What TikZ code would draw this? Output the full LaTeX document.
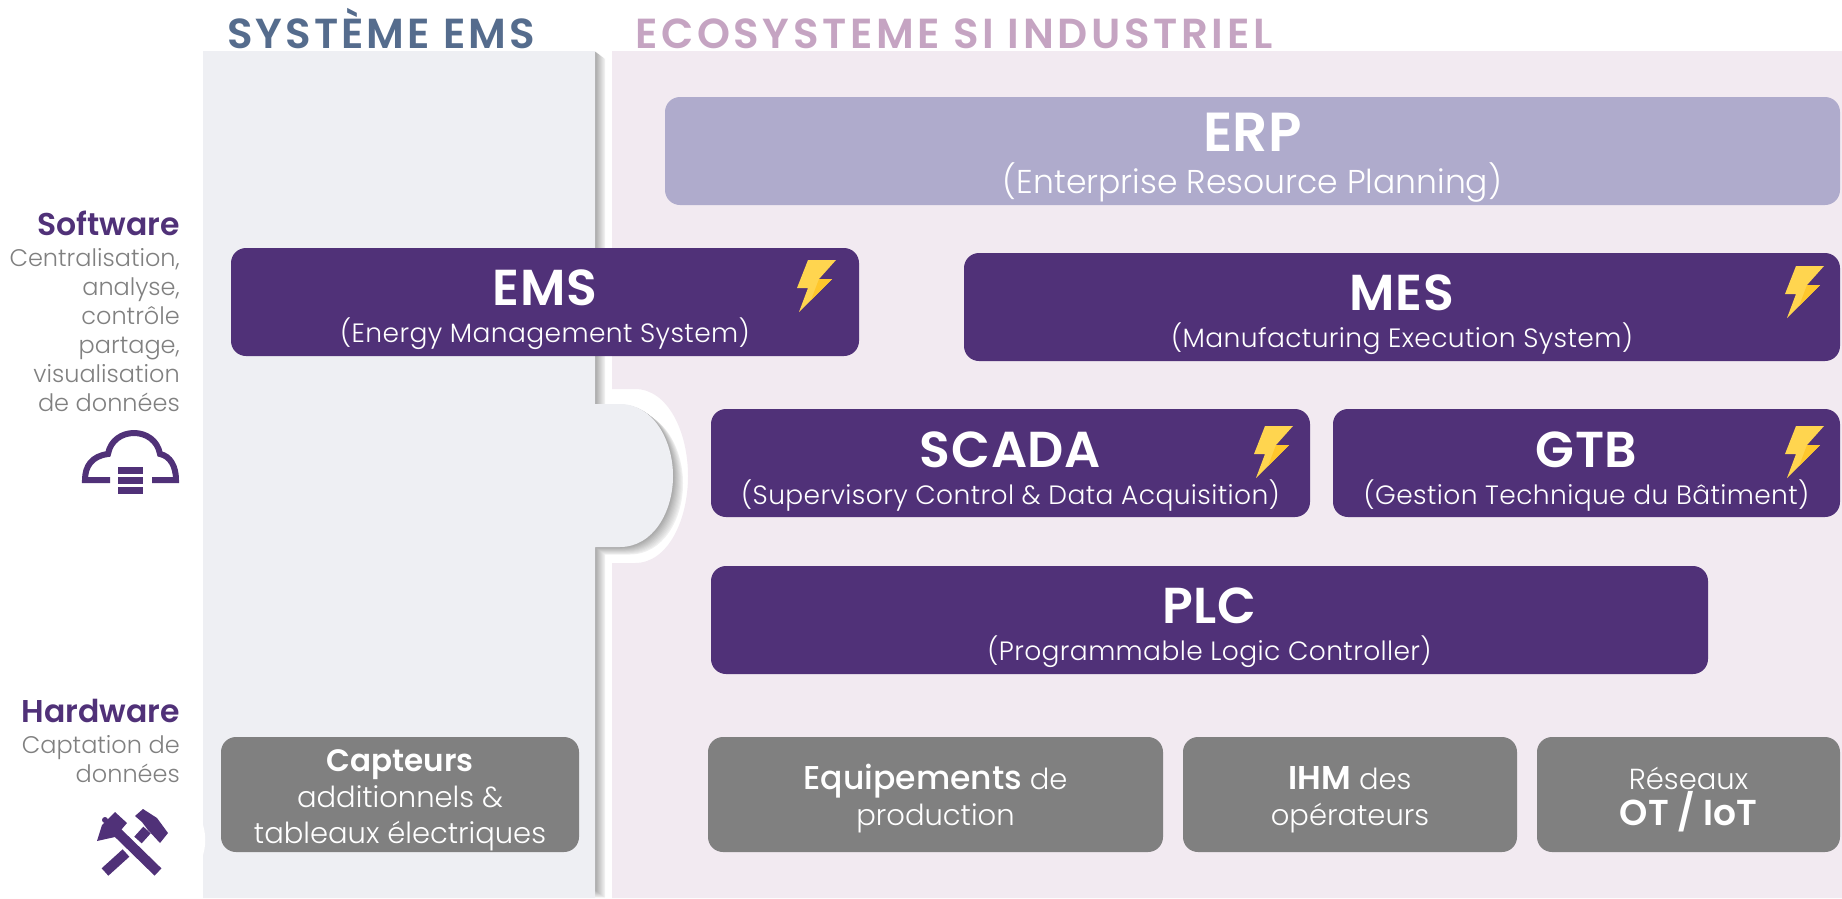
\documentclass[tikz,border=0pt]{standalone}
\usepackage{fontspec}
\setmainfont{Poppins Light}[BoldFont={Poppins SemiBold}]
\newfontface\mediumface{Poppins Medium}
\usepackage{tikz}

\definecolor{emspurple}{HTML}{503178}
\definecolor{erplilac}{HTML}{AFABCC}
\definecolor{boxgrey}{HTML}{808080}
\definecolor{leftpanel}{HTML}{EEEFF3}
\definecolor{rightpanel}{HTML}{F2EAF1}
\definecolor{headblue}{HTML}{556C8D}
\definecolor{headpink}{HTML}{C5A4C2}
\definecolor{boltlight}{HTML}{FFD54F}
\definecolor{boltdark}{HTML}{FFC72C}

\newcommand{\bigname}[2][50.5]{{\fontsize{#1}{37}\selectfont\bfseries\rule{0pt}{52pt}#2}}
\newcommand{\sidename}[1]{\textcolor{emspurple}{\fontsize{31.5}{29}\selectfont\bfseries #1}}
\newcommand{\hardtop}{\rule{0pt}{33pt}}

\tikzset{
    layerbox/.style={rounded corners=15, inner sep=0, text=white, align=center,
        minimum height=108, font=\fontsize{26.5}{37}\selectfont\addfontfeature{LetterSpace=1.5}},
    darkbox/.style={layerbox, fill=emspurple},
    erpbox/.style={layerbox, fill=erplilac, font=\fontsize{33}{41.5}\selectfont},
    hardbox/.style={rounded corners=15, inner sep=0, text=white, align=center, fill=boxgrey,
        font=\fontsize{29}{36}\selectfont, minimum height=115},
    sidetext/.style={anchor=north east, inner sep=0, align=right, text=boxgrey,
        font=\fontsize{24}{29}\selectfont},
    headtext/.style={anchor=base west, inner sep=0,
        font=\fontsize{42}{42}\selectfont\bfseries\addfontfeature{LetterSpace=7.3}},
    bolt/.pic={
        \fill[boltlight] (11,0) -- (39,0) -- (22,19) -- (35,19) -- (2,52) -- (11,28) -- (0,28) -- cycle;
        \fill[boltdark] (22,19) -- (35,19) -- (14,40) -- (19,27) -- cycle;
    }
}

\begin{document}
\begin{tikzpicture}[x=1pt, y=-1pt]
    \useasboundingbox (0,0) rectangle (1842,898);

    % Right panel, with its notch
    \fill[rightpanel] (612,51) -- (1842,51) -- (1842,898) -- (612,898) -- (612,563) -- (635,563)
        .. controls (668,563) and (688,520) .. (688,476)
        .. controls (688,432) and (668,389) .. (635,389) -- (612,389) -- cycle;

    % Shadow of the left panel
    \foreach \i in {10,...,1}
        \fill[black!\the\numexpr 36-3*\i\relax!white, shift={(\i,0.75*\i)}] (203,51) -- (595,51) -- (595,404) -- (620,404)
            .. controls (653,404) and (673,440) .. (673,476)
            .. controls (673,512) and (653,547) .. (620,547) -- (595,547) -- (595,890) -- (203,890) -- cycle;

    % Left panel
    \fill[leftpanel] (203,51) -- (595,51) -- (595,404) -- (620,404)
        .. controls (653,404) and (673,440) .. (673,476)
        .. controls (673,512) and (653,547) .. (620,547) -- (595,547) -- (595,898) -- (203,898) -- cycle;
    \fill[white] (203,825) .. controls (206,835) and (206,845) .. (203,855) -- cycle;

    % Column titles
    \node[headtext, text=headblue] (systemtitle) at (227,48) {SYSTÈME EMS};
    \node[headtext, text=headpink] (ecotitle) at (635,48) {\addfontfeature{LetterSpace=8.6}ECOSYSTEME SI INDUSTRIEL};

    % Software layers
    \node[erpbox, minimum width=1175] (erp) at (1252.5,151)
        {\bigname[55]{ERP}\\(Enterprise Resource Planning)};
    \node[darkbox, minimum width=628] (ems) at (545,302)
        {\bigname{EMS}\\(Energy Management System)};
    \node[darkbox, minimum width=876] (mes) at (1402,307)
        {\bigname{MES}\\(Manufacturing Execution System)};
    \node[darkbox, minimum width=599] (scada) at (1010.5,463)
        {\bigname{SCADA}\\(Supervisory Control \& Data Acquisition)};
    \node[darkbox, minimum width=507] (gtb) at (1586.5,463)
        {\bigname{GTB}\\(Gestion Technique du Bâtiment)};
    \node[darkbox, minimum width=997] (plc) at (1209.5,620)
        {\bigname{PLC}\\(Programmable Logic Controller)};

    % Energy bolts
    \pic at (797,260) {bolt};
    \pic at (1785,266) {bolt};
    \pic at (1254,426) {bolt};
    \pic at (1785,426) {bolt};

    % Hardware layers
    \node[hardbox, minimum width=358] (capteurs) at (400,794.5)
        {\hardtop\textbf{\fontsize{31}{36}\selectfont Capteurs}\\additionnels \&\\tableaux électriques};
    \node[hardbox, minimum width=455] (equip) at (935.5,794.5)
        {\hardtop{\fontsize{33}{36}\selectfont\mediumface Equipements} de\\production};
    \node[hardbox, minimum width=334] (ihm) at (1350,794.5)
        {\hardtop\textbf{\fontsize{33}{36}\selectfont IHM} des\\opérateurs};
    \node[hardbox, minimum width=303] (reseaux) at (1688.5,794.5)
        {\hardtop Réseaux\\\textbf{\fontsize{36}{36}\selectfont OT / IoT}};

    % Side labels
    \node[sidetext] (softlabel) at (180,211)
        {\sidename{Software}\\[2pt]Centralisation,\\analyse,\\contrôle\\partage,\\visualisation\\de données};
    \node[sidetext] (hardlabel) at (180,699)
        {\sidename{Hardware}\\[2pt]Captation de\\données};

    % Cloud icon
    \draw[emspurple, line width=6] (110,480) -- (85,480)
        .. controls (85,466) and (92,456) .. (108,454)
        .. controls (113,426) and (155,426) .. (160,454)
        .. controls (170,456) and (176,466) .. (176,480) -- (152,480);
    \foreach \y in {467,477,487}
        \fill[emspurple] (118,\y) rectangle (143,\y+7);

    % Hammers icon
    \draw[emspurple, line width=10] (117,832) -- (158,872);
    \draw[emspurple, line width=10] (147,830) -- (138,840);
    \draw[emspurple, line width=10] (126,853) -- (105,872);
    \fill[emspurple] (97,841) -- (102,825) -- (115,812) -- (127,823) -- (115,837) -- cycle;
    \fill[emspurple] (105,820) circle (3);
    \fill[emspurple] (135,816) -- (143,809) -- (157,818) -- (168,833) -- (160,843) -- (148,830) -- (142,822) -- cycle;
\end{tikzpicture}
\end{document}
